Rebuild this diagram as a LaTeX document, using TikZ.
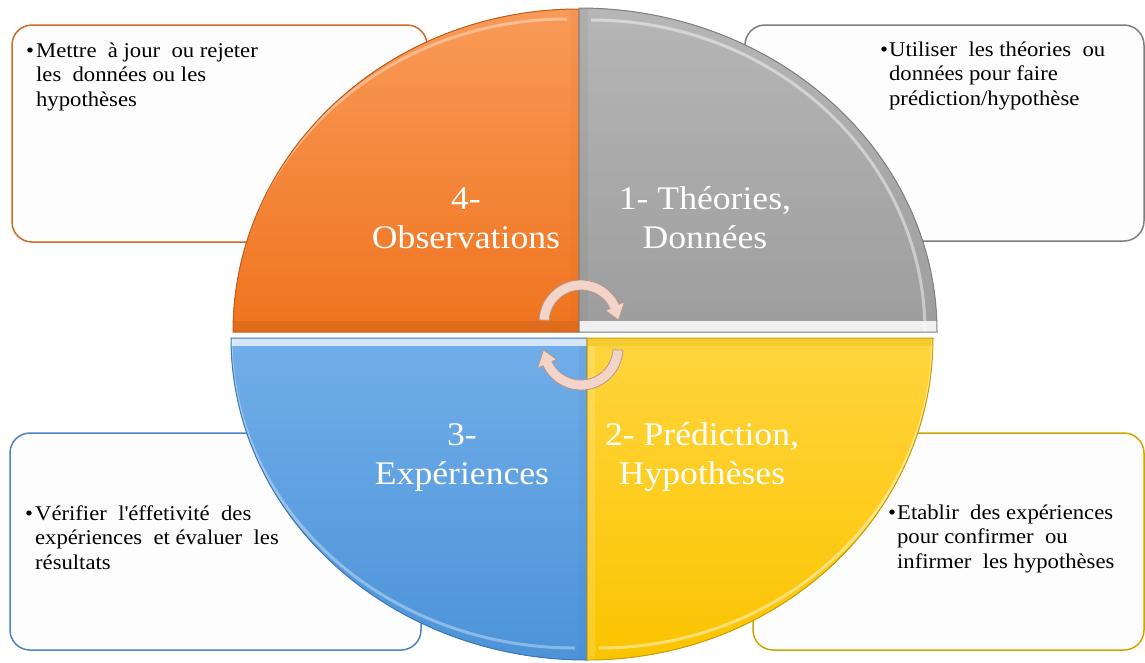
\documentclass[tikz,border=0pt]{standalone}
\usepackage{fontspec}
\setmainfont{Liberation Serif}[FakeStretch=1.08]
\usetikzlibrary{calc}

% quadrant fills
\definecolor{orgA}{HTML}{F99A58}
\definecolor{orgB}{HTML}{EF741E}
\definecolor{orgLine}{HTML}{C25C17}
\definecolor{gryA}{HTML}{B6B6B6}
\definecolor{gryB}{HTML}{9D9D9D}
\definecolor{gryLine}{HTML}{808080}
\definecolor{bluA}{HTML}{72AEE9}
\definecolor{bluB}{HTML}{4C93D9}
\definecolor{bluLine}{HTML}{3E78B4}
\definecolor{yelA}{HTML}{FFD53E}
\definecolor{yelB}{HTML}{FBC400}
\definecolor{yelLine}{HTML}{C99F00}
% cycle arrows
\definecolor{arrFill}{HTML}{F3D4C8}
\definecolor{arrLine}{HTML}{B8968B}
% note boxes
\definecolor{paper}{HTML}{FDFDFD}
\definecolor{boxOrg}{HTML}{CF6A26}
\definecolor{boxGry}{HTML}{7F7F7F}
\definecolor{boxBlu}{HTML}{4F82BE}
\definecolor{boxYel}{HTML}{D0A500}

% quarter of an ellipse: corner, start angle, end angle, radii
\newcommand\quarterpath[6]{(#1,#2) -- ++(#3:#5 and #6) arc[start angle=#3, end angle=#4, x radius=#5, y radius=#6] -- cycle}

\tikzset{
  infobox/.style={draw, line width=1.5pt, fill=paper, rounded corners=20pt, inner sep=0pt},
  notetext/.style={anchor=base west, inner sep=0pt, text=black,
    font=\fontsize{21}{24.5}\selectfont},
  quadlabel/.style={anchor=base, inner sep=0pt, text=white,
    font=\fontsize{33}{39}\selectfont},
  arrowbody/.style={fill=arrFill, draw=arrLine, line width=0.8pt},
  cyclearrow/.pic={
    \path[arrowbody] (183:42) arc[start angle=183, end angle=335, radius=42]
      -- (335:48) -- (357:37.5) -- (335:27) -- (335:32)
      arc[start angle=335, end angle=183, radius=32] -- cycle;
  }
}

\begin{document}
\begin{tikzpicture}[x=1pt, y=-1pt]
\useasboundingbox (0,0) rectangle (1145,662);

% ---- note boxes behind the disc ----
\node[infobox, draw=boxOrg, minimum width=415pt, minimum height=217pt] (box4) at (219.5,133.5) {};
\node[infobox, draw=boxGry, minimum width=399pt, minimum height=216pt] (box1) at (944.5,133) {};
\node[infobox, draw=boxBlu, minimum width=411pt, minimum height=217pt] (box3) at (215.5,541.5) {};
\node[infobox, draw=boxYel, minimum width=391pt, minimum height=217pt] (box2) at (948.5,541.5) {};

% ---- orange quadrant (top left) ----
\begin{scope}
  \clip \quarterpath{579}{332}{180}{270}{346}{323};
  \fill[top color=orgA, bottom color=orgB] (233,9) rectangle (579,332);
  \draw[white, opacity=.35, line width=3pt] (567,332) ++(180:336 and 313) arc[start angle=180, end angle=270, x radius=336, y radius=313];
  \fill[orgLine, opacity=.35] (233,321) rectangle (579,332);
  \fill[orgLine, opacity=.08] (571,9) rectangle (579,321);
\end{scope}
\draw[orgLine, line width=1pt] \quarterpath{579}{332}{180}{270}{346}{323};

% ---- grey quadrant (top right) ----
\begin{scope}
  \clip \quarterpath{579}{332}{270}{360}{358}{324};
  \fill[top color=gryA, bottom color=gryB] (579,8) rectangle (937,332);
  \draw[white, opacity=.45, line width=3pt] (591,332) ++(270:312 and 312) arc[start angle=270, end angle=360, x radius=334, y radius=312];
  \fill[white, opacity=.85] (579,321) rectangle (937,332);
  \fill[gryLine, opacity=.15] (579,8) rectangle (588,321);
\end{scope}
\draw[gryLine, line width=1pt] \quarterpath{579}{332}{270}{360}{358}{324};

% ---- blue quadrant (bottom left) ----
\begin{scope}
  \clip \quarterpath{587}{338}{90}{180}{356}{322};
  \fill[top color=bluA, bottom color=bluB] (231,338) rectangle (587,660);
  \draw[white, opacity=.35, line width=3pt] (575,338) ++(90:344 and 310) arc[start angle=90, end angle=180, x radius=344, y radius=310];
  \fill[white, opacity=.7] (231,338) rectangle (587,346);
  \fill[bluLine, opacity=.1] (579,346) rectangle (587,660);
\end{scope}
\draw[bluLine, line width=1pt] \quarterpath{587}{338}{90}{180}{356}{322};

% ---- yellow quadrant (bottom right) ----
\begin{scope}
  \clip \quarterpath{587}{338}{0}{90}{346}{322};
  \fill[top color=yelA, bottom color=yelB] (587,338) rectangle (933,660);
  \draw[white, opacity=.45, line width=3pt] (599,338) ++(0:334 and 310) arc[start angle=0, end angle=90, x radius=334, y radius=310];
  \fill[white, opacity=.15] (587,346) rectangle (595,660);
  \fill[yelLine, opacity=.2] (587,338) rectangle (933,346);
\end{scope}
\draw[yelLine, line width=1pt] \quarterpath{587}{338}{0}{90}{346}{322};

% ---- cycle arrows in the middle ----
\pic (upperarrow) at (581,322) {cyclearrow};
\pic[rotate=180] (lowerarrow) at (581,348) {cyclearrow};

% ---- quadrant titles ----
\node[quadlabel] (lab4) at (466,209) {\begin{tabular}[t]{@{}c@{}}4-\\Observations\end{tabular}};
\node[quadlabel] (lab1) at (705,209) {\begin{tabular}[t]{@{}c@{}}1- Théories,\\Données\end{tabular}};
\node[quadlabel] (lab3) at (462,445) {\begin{tabular}[t]{@{}c@{}}3-\\Expériences\end{tabular}};
\node[quadlabel] (lab2) at (702,445) {\begin{tabular}[t]{@{}c@{}}2- Prédiction,\\Hypothèses\end{tabular}};

% ---- box texts ----
\node[notetext] (txt4) at (26,57) {\begin{tabular}[t]{@{}l@{\hspace{2pt}}l@{}}
  • & Mettre \ à jour \ ou rejeter\\ & les \ données ou les\\ & hypothèses\end{tabular}};
\node[notetext] (txt1) at (880,56) {\begin{tabular}[t]{@{}l@{\hspace{1pt}}l@{}}
  • & Utiliser \ les théories \ ou\\ & données pour faire\\ & prédiction/hypothèse\end{tabular}};
\node[notetext] (txt3) at (25,520) {\begin{tabular}[t]{@{}l@{\hspace{2pt}}l@{}}
  • & Vérifier \ l\textquotesingle éffetivité \ des\\ & expériences \ et évaluer \ les\\ & résultats\end{tabular}};
\node[notetext] (txt2) at (888,519) {\begin{tabular}[t]{@{}l@{\hspace{1pt}}l@{}}
  • & Etablir \ des expériences\\ & pour confirmer \ ou\\ & infirmer \ les hypothèses\end{tabular}};
\end{tikzpicture}
\end{document}
